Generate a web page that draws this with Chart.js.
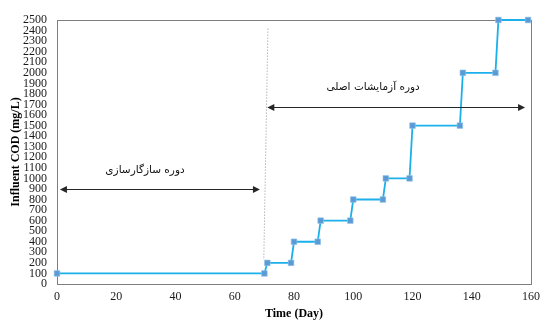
<!DOCTYPE html>
<html>
<head>
<meta charset="utf-8">
<script src="https://cdn.jsdelivr.net/npm/chart.js@4/dist/chart.umd.min.js"></script>
<style>
  html, body { margin: 0; padding: 0; background: #fff; }
  #wrap { width: 541px; height: 320px; }
</style>
</head>
<body>
<div id="wrap"><canvas id="codChart" width="541" height="320"></canvas></div>
<script>
// Influent COD steps over the run (day, mg/L)
const days = [0, 70, 71, 79, 80, 88, 89, 99, 100, 110, 111, 119, 120, 136, 137, 148, 149, 159];
const cod = [100, 100, 200, 200, 400, 400, 600, 600, 800, 800, 1000, 1000, 1500, 1500, 2000, 2000, 2500, 2500];

// Tick steps
const xTicks = [0, 20, 40, 60, 80, 100, 120, 140, 160];
const yStep = 100;
const yMax = 2500;

// Phase boundary (dotted line) in day / COD units
const boundaryDays = [71.2, 69.8];
const boundaryCod = [2420, 230];

// Phase arrows: from day, to day, COD level
const startupArrow = [1, 68.5, 900];
const mainArrow = [71, 158, 1680];

// Phase names and where they sit
const phaseNames = ['دوره سازگارسازی', 'دوره آزمایشات اصلی'];
const phaseNameDays = [29.7, 106.7];
const phaseNameCod = [1080, 1865];

const phaseMarks = {
  id: 'phaseMarks',
  beforeDatasetsDraw(chart) {
    // frame round the plot
    const { ctx, chartArea: ca } = chart;
    ctx.save();
    ctx.strokeStyle = '#7f7f7f';
    ctx.lineWidth = 1;
    ctx.strokeRect(Math.round(ca.left) + 0.5, Math.round(ca.top) + 0.5,
      Math.round(ca.right - ca.left), Math.round(ca.bottom - ca.top));
    ctx.restore();
  },
  afterDatasetsDraw(chart) {
    const { ctx, scales: { x, y } } = chart;
    ctx.save();
    ctx.strokeStyle = '#262626';
    ctx.fillStyle = '#262626';
    ctx.lineWidth = 1;
    [startupArrow, mainArrow].forEach(a => {
      const x1 = x.getPixelForValue(a[0]);
      const x2 = x.getPixelForValue(a[1]);
      const py = Math.round(y.getPixelForValue(a[2])) + 0.5;
      const head = 7, half = 3.5;
      ctx.beginPath();
      ctx.moveTo(x1 + head - 1, py);
      ctx.lineTo(x2 - head + 1, py);
      ctx.stroke();
      ctx.beginPath();
      ctx.moveTo(x1, py);
      ctx.lineTo(x1 + head, py - half);
      ctx.lineTo(x1 + head, py + half);
      ctx.closePath();
      ctx.fill();
      ctx.beginPath();
      ctx.moveTo(x2, py);
      ctx.lineTo(x2 - head, py - half);
      ctx.lineTo(x2 - head, py + half);
      ctx.closePath();
      ctx.fill();
    });
    ctx.font = '10.5px "DejaVu Sans"';
    ctx.fillStyle = '#111';
    ctx.textAlign = 'center';
    ctx.textBaseline = 'middle';
    ctx.direction = 'rtl';
    phaseNames.forEach((t, i) => {
      ctx.fillText(t, x.getPixelForValue(phaseNameDays[i]), y.getPixelForValue(phaseNameCod[i]));
    });
    ctx.restore();
  }
};

const serif = '"Liberation Serif", "Times New Roman", serif';

new Chart(document.getElementById('codChart').getContext('2d'), {
  type: 'scatter',
  data: {
    datasets: [
      {
        data: days.map((d, i) => ({ x: d, y: cod[i] })),
        showLine: true,
        borderColor: '#1cb0ea',
        borderWidth: 1.8,
        pointStyle: 'rect',
        pointRadius: 4,
        pointBackgroundColor: '#5b9bd5',
        pointBorderColor: '#94c2ea',
        pointBorderWidth: 0.6,
        tension: 0,
        clip: false
      },
      {
        data: boundaryDays.map((d, i) => ({ x: d, y: boundaryCod[i] })),
        showLine: true,
        borderColor: '#b4b4b4',
        borderWidth: 1,
        borderDash: [1.5, 1.5],
        pointRadius: 0
      }
    ]
  },
  options: {
    responsive: false,
    animation: false,
    devicePixelRatio: 1,
    layout: { padding: { top: 20, right: 10, left: 0, bottom: 0 } },
    plugins: {
      legend: { display: false },
      tooltip: { enabled: false }
    },
    scales: {
      x: {
        type: 'linear',
        min: xTicks[0],
        max: xTicks[xTicks.length - 1],
        grid: { display: false, drawTicks: false },
        border: { color: '#7f7f7f' },
        ticks: {
          stepSize: xTicks[1] - xTicks[0],
          color: '#1a1a1a',
          padding: 6,
          maxRotation: 0,
          font: { family: serif, size: 12 }
        },
        title: {
          display: true,
          text: 'Time (Day)',
          color: '#000',
          font: { family: serif, size: 12, weight: 'bold' },
          padding: { top: 0, bottom: -1 }
        },
        afterFit(s) {
          s.height = 36;
          s.paddingLeft = 0;
          s.paddingRight = 0;
        }
      },
      y: {
        type: 'linear',
        min: 0,
        max: yMax,
        grid: { display: false, drawTicks: false },
        border: { color: '#7f7f7f' },
        ticks: {
          stepSize: yStep,
          autoSkip: false,
          color: '#1a1a1a',
          padding: 10,
          font: { family: serif, size: 12 },
          callback: v => String(v)
        },
        title: {
          display: true,
          text: 'Influent COD (mg/L)',
          color: '#000',
          font: { family: serif, size: 12, weight: 'bold' },
          padding: { top: 9, bottom: 0 }
        },
        afterFit(s) {
          s.width = 57;
          s.paddingTop = 0;
          s.paddingBottom = 0;
        }
      }
    }
  },
  plugins: [phaseMarks]
});
</script>
</body>
</html>
